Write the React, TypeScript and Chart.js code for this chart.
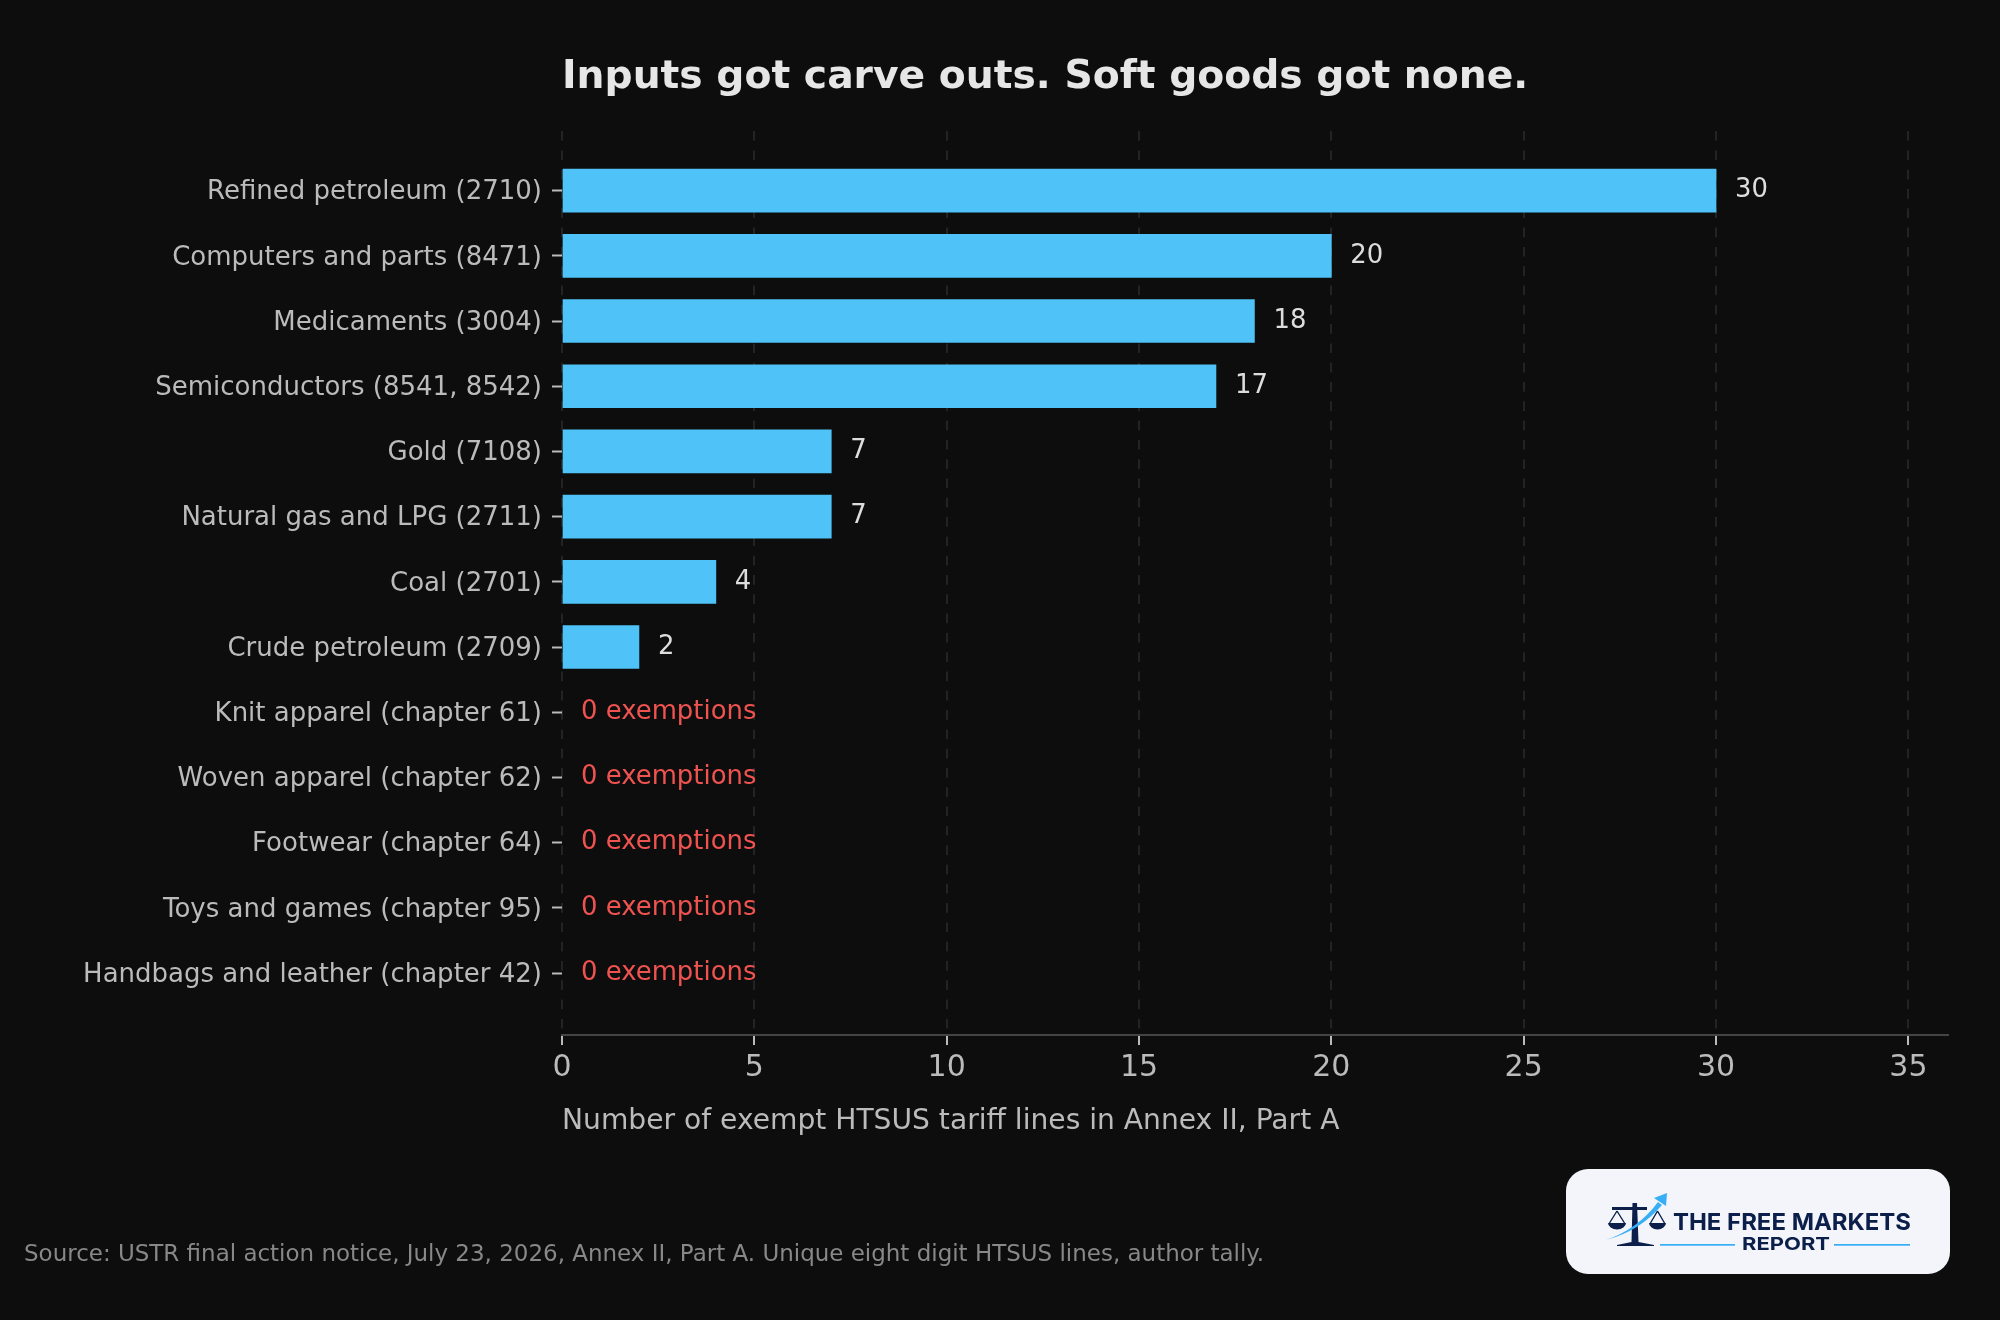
import React, { useEffect, useRef } from 'react';
import { Chart, registerables } from 'chart.js';

Chart.register(...registerables);

const categories = [
  'Refined petroleum (2710)',
  'Computers and parts (8471)',
  'Medicaments (3004)',
  'Semiconductors (8541, 8542)',
  'Gold (7108)',
  'Natural gas and LPG (2711)',
  'Coal (2701)',
  'Crude petroleum (2709)',
  'Knit apparel (chapter 61)',
  'Woven apparel (chapter 62)',
  'Footwear (chapter 64)',
  'Toys and games (chapter 95)',
  'Handbags and leather (chapter 42)',
];
const exemptLines = [30, 20, 18, 17, 7, 7, 4, 2, 0, 0, 0, 0, 0];
const xTicks = [0, 5, 10, 15, 20, 25, 30, 35];

const titleText = 'Inputs got carve outs. Soft goods got none.';
const xLabel = 'Number of exempt HTSUS tariff lines in Annex II, Part A';
const sourceText = 'Source: USTR final action notice, July 23, 2026, Annex II, Part A. Unique eight digit HTSUS lines, author tally.';

const FONT = '"DejaVu Sans"';
const BG = '#0d0d0d';

// prints the number (or "0 exemptions") right of each bar
const valueLabels = {
  id: 'valueLabels',
  afterDatasetsDraw(chart: Chart) {
    const { ctx } = chart;
    ctx.save();
    ctx.font = `25.9px ${FONT}`;
    ctx.textBaseline = 'middle';
    ctx.textAlign = 'left';
    chart.getDatasetMeta(0).data.forEach((bar: any, i: number) => {
      const v = exemptLines[i];
      ctx.fillStyle = v === 0 ? '#ef5350' : '#dddddd';
      ctx.fillText(v === 0 ? '0 exemptions' : String(v), bar.x + 19, bar.y);
    });
    ctx.restore();
  },
};

const ChartCanvas: React.FC = () => {
  const chartRef = useRef<HTMLCanvasElement | null>(null);

  useEffect(() => {
    if (!chartRef.current) return;
    const ctx = chartRef.current.getContext('2d');
    if (!ctx) return;

    const chartInstance = new Chart(ctx, {
      type: 'bar',
      data: {
        datasets: [
          {
            data: exemptLines.map((v, i) => ({ x: v, y: i })),
            backgroundColor: exemptLines.map((v) => (v === 0 ? 'transparent' : '#4fc3f7')),
            barThickness: 43,
          },
        ],
      },
      options: {
        indexAxis: 'y',
        responsive: false,
        animation: false,
        devicePixelRatio: 1,
        layout: { padding: { left: 0, right: 52, top: 0, bottom: 180 } },
        plugins: {
          legend: { display: false },
          tooltip: { enabled: false },
          title: {
            display: true,
            text: titleText,
            align: 'start',
            fullSize: false,
            color: '#e6e6e6',
            font: { family: FONT, size: 39.25, weight: 'bold', lineHeight: 1.2 },
            padding: { top: 54, bottom: 29 },
          },
        },
        scales: {
          x: {
            type: 'linear',
            min: 0,
            max: 36.03,
            afterFit: (s: any) => { s.height = 105; },
            afterBuildTicks: (s: any) => { s.ticks = xTicks.map((value) => ({ value })); },
            grid: {
              color: '#232323',
              lineWidth: 2,
              tickColor: '#bbbbbb',
              tickLength: 10,
            },
            border: { color: '#444444', width: 2, dash: [9.7, 9.6], dashOffset: -1 },
            ticks: {
              color: '#bbbbbb',
              font: { family: FONT, size: 30 },
              padding: 5,
              maxRotation: 0,
              autoSkip: false,
            },
            title: {
              display: true,
              text: xLabel,
              align: 'start',
              color: '#bbbbbb',
              font: { family: FONT, size: 28.15, lineHeight: 1.2 },
              padding: { top: 0, bottom: 1.5 },
            },
          },
          y: {
            type: 'linear',
            reverse: true,
            offset: false,
            min: -0.928,
            max: 12.95,
            afterFit: (s: any) => { s.width = 562; },
            afterBuildTicks: (s: any) => { s.ticks = categories.map((_, value) => ({ value })); },
            grid: {
              offset: false,
              drawOnChartArea: false,
              tickColor: '#bbbbbb',
              tickWidth: 2,
              tickLength: 10,
            },
            border: { display: false },
            ticks: {
              color: '#bbbbbb',
              font: { family: FONT, size: 26 },
              padding: 10,
              labelOffset: 2,
              autoSkip: false,
              callback: (value: any) => categories[value],
            },
          },
        },
      },
      plugins: [valueLabels],
    });

    return () => chartInstance.destroy();
  }, []);

  return <canvas ref={chartRef} width={2000} height={1320} style={{ display: 'block' }} />;
};

const NAVY = '#0b1f4a';
const SKY = '#38aef5';

const Logo: React.FC = () => (
  <svg width={384} height={105} viewBox="0 0 384 105" style={{ position: 'absolute', left: 1566, top: 1169 }}>
    <rect width={384} height={105} rx={22} fill="#f3f5fa" />
    {/* scale */}
    <path d="M46 39.5 H81" stroke={NAVY} strokeWidth={3} fill="none" />
    <path d="M66.5 34 H71 L72.5 73 L88 76 V77 H51 V76 L65.5 73 Z" fill={NAVY} />
    <path d="M42 54 H60 A9 6.5 0 0 1 42 54 Z M83 54 H100 A8.5 6.5 0 0 1 83 54 Z" fill={NAVY} />
    <path d="M51 42 L43.5 54 M51 42 L58.5 54 M91.5 42 L84.5 54 M91.5 42 L98.5 54" stroke={NAVY} strokeWidth={1.4} fill="none" />
    {/* arrow */}
    <path d="M40 71 Q72 60 92 33 L96 36 Q74 62 40 71 Z" fill={SKY} />
    <path d="M88 29 L101 24 L100 37 Z" fill={SKY} />
    <text x={107} y={61} fontFamily="Inter" fontWeight={700} fontSize={23.4} fill={NAVY} textLength={238} lengthAdjust="spacingAndGlyphs">THE FREE MARKETS</text>
    <text x={176} y={81} fontFamily="Inter" fontWeight={700} fontSize={18} fill={NAVY} textLength={88} lengthAdjust="spacingAndGlyphs">REPORT</text>
    <rect x={94} y={75} width={75} height={1.7} fill={SKY} />
    <rect x={268} y={75} width={76} height={1.7} fill={SKY} />
  </svg>
);

const App: React.FC = () => {
  return (
    <div style={{ position: 'absolute', left: 0, top: 0, width: 2000, height: 1320, background: BG, overflow: 'hidden' }}>
      <ChartCanvas />
      <div
        style={{
          position: 'absolute',
          left: 24,
          top: 1239,
          fontFamily: FONT,
          fontSize: 22.97,
          lineHeight: '28px',
          color: '#888888',
          whiteSpace: 'nowrap',
        }}
      >
        {sourceText}
      </div>
      <Logo />
    </div>
  );
};

export default App;
